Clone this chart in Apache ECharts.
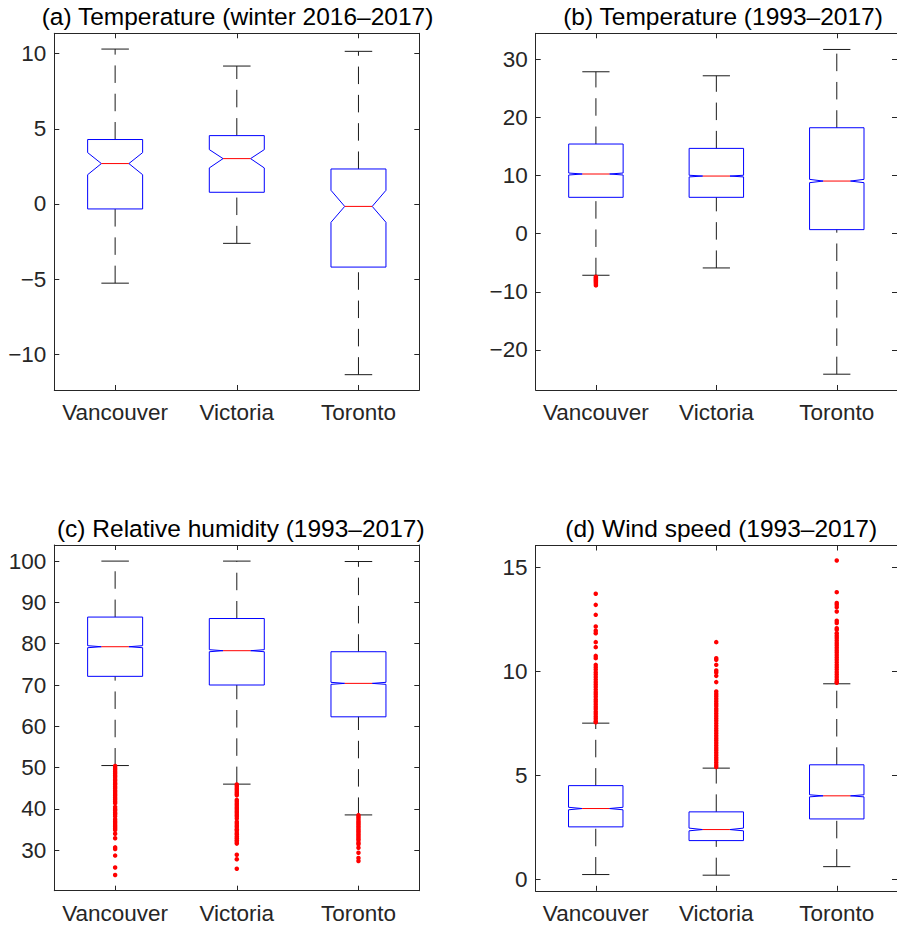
<!DOCTYPE html>
<html>
<head>
<meta charset="utf-8">
<script src="https://cdn.jsdelivr.net/npm/echarts@6/dist/echarts.min.js"></script>
<style>
  html, body { margin: 0; padding: 0; background: #ffffff; }
  #chart { width: 897px; height: 927px; }
</style>
</head>
<body>
<div id="chart"></div>
<script>
// ---------- data ----------
const cities = ['Vancouver', 'Victoria', 'Toronto'];

// Box statistics, ordered as
// [lower whisker, Q1, notch low, median, notch high, Q3, upper whisker]
const winterTempVancouver = [-5.27, -0.33, 1.95, 2.69, 3.42, 4.29, 10.31];
const winterTempVictoria  = [-2.62, 0.78, 2.40, 3.02, 3.62, 4.55, 9.18];
const winterTempToronto   = [-11.36, -4.20, -1.22, -0.16, 0.91, 2.33, 10.16];

const tempVancouver = [-7.16, 6.25, 10.09, 10.26, 10.43, 15.42, 27.85];
const tempVictoria  = [-5.90, 6.25, 9.76, 9.91, 10.05, 14.67, 27.16];
const tempToronto   = [-24.18, 0.69, 8.77, 9.05, 9.34, 18.22, 31.69];

const humidityVancouver = [50.5, 72.1, 79.03, 79.27, 79.52, 86.45, 100];
const humidityVictoria  = [46.0, 70.0, 78.06, 78.31, 78.55, 86.1, 100];
const humidityToronto   = [38.55, 62.3, 70.16, 70.4, 70.65, 78.06, 99.9];

const windVancouver = [0.24, 2.53, 3.35, 3.41, 3.47, 4.51, 7.51];
const windVictoria  = [0.21, 1.87, 2.34, 2.40, 2.47, 3.25, 5.35];
const windToronto   = [0.62, 2.91, 3.97, 4.02, 4.07, 5.51, 9.40];

// Outlying observations
const tempOutVancouver = [-7.4, -7.55, -7.7, -7.85, -8.0, -8.15, -8.3, -8.5, -8.7, -8.9];

const humidityOutVancouver = [50.4, 49.9, 49.5, 49.0, 48.6, 48.1, 47.7, 47.2, 46.8, 46.3,
  45.9, 45.4, 45.0, 44.5, 44.1, 43.6, 43.2, 42.7, 42.3, 41.8, 41.4,
  40.5, 40.0, 39.6, 39.1, 38.7, 38.2, 37.5, 37.0, 36.6, 36.1, 35.7, 35.3, 34.9,
  34.0, 32.9, 30.7, 30.3, 28.7, 25.8, 24.0];
const humidityOutVictoria = [45.9, 45.5, 45.0, 44.6, 44.1, 43.7, 43.3,
  42.2, 41.8, 41.3, 40.9, 40.4, 40.0, 39.5, 39.1, 38.6, 38.2, 37.7,
  36.9, 36.5, 36.0, 35.6, 35.1, 34.7, 34.2, 33.8, 33.3, 32.9, 32.4, 32.0, 31.6,
  28.9, 27.8, 25.5];
const humidityOutToronto = [38.5, 38.1, 37.7, 37.2, 36.8, 36.4, 36.0, 35.6, 35.2, 34.8,
  34.4, 34.0, 33.6, 33.2, 32.8, 32.4, 31.8, 31.45, 30.6, 29.4, 28.1, 27.4];

const windOutVancouver = [13.72, 13.19, 12.71, 12.15, 11.95, 11.83, 11.40, 11.16, 10.74, 10.63,
  10.31, 10.2, 10.08, 9.95, 9.84, 9.72, 9.6, 9.48, 9.37, 9.25, 9.12, 9.0, 8.9, 8.78, 8.65,
  8.54, 8.42, 8.3, 8.19, 8.06, 7.95, 7.83, 7.72, 7.6, 7.55];
const windOutVictoria = [11.40, 10.63, 10.55, 10.31, 10.04, 9.94, 9.78, 9.48,
  9.03, 8.91, 8.8, 8.68, 8.56, 8.44, 8.33, 8.2, 8.09, 7.97, 7.85, 7.73, 7.62, 7.5, 7.38,
  7.26, 7.15, 7.03, 6.91, 6.79, 6.68, 6.56, 6.44, 6.32, 6.21, 6.09, 5.97, 5.85, 5.74,
  5.62, 5.5, 5.4];
const windOutToronto = [15.32, 13.80, 13.28, 13.19, 13.08, 12.87, 12.43, 12.32, 12.07, 11.99,
  11.83, 11.71, 11.6, 11.48, 11.36, 11.25, 11.13, 11.01, 10.9, 10.78, 10.66, 10.55, 10.43,
  10.31, 10.2, 10.08, 9.96, 9.85, 9.73, 9.61, 9.5, 9.45];

// Tick labels
const winterTempTicks = [-10, -5, 0, 5, 10];
const tempTicks = [-20, -10, 0, 10, 20, 30];
const humidityTicks = [30, 40, 50, 60, 70, 80, 90, 100];
const windTicks = [0, 5, 10, 15];

// Panel titles
const titleA = '(a) Temperature (winter 2016\u20132017)';
const titleB = '(b) Temperature (1993\u20132017)';
const titleC = '(c) Relative humidity (1993\u20132017)';
const titleD = '(d) Wind speed (1993\u20132017)';

// ---------- drawing ----------
const FONT = '"Liberation Sans", Arial, Helvetica, sans-serif';
const AXIS = '#262626';

const panels = [
  { title: titleA, titleX: 237.5, titleY: 16,
    grid: { left: 54.3, top: 33.3, width: 365, height: 356.7 },
    range: [-12.38, 11.36], ticks: winterTempTicks,
    boxes: [winterTempVancouver, winterTempVictoria, winterTempToronto],
    outliers: [[], [], []] },
  { title: titleB, titleX: 723, titleY: 16,
    grid: { left: 535.7, top: 33.3, width: 364.3, height: 356.7 },
    range: [-26.9, 34.47], ticks: tempTicks,
    boxes: [tempVancouver, tempVictoria, tempToronto],
    outliers: [tempOutVancouver, [], []] },
  { title: titleC, titleX: 240.8, titleY: 528,
    grid: { left: 54.3, top: 545, width: 365, height: 345.7 },
    range: [20.2, 103.9], ticks: humidityTicks,
    boxes: [humidityVancouver, humidityVictoria, humidityToronto],
    outliers: [humidityOutVancouver, humidityOutVictoria, humidityOutToronto] },
  { title: titleD, titleX: 721.2, titleY: 528,
    grid: { left: 535.5, top: 545.5, width: 364.5, height: 345.3 },
    range: [-0.54, 16.04], ticks: windTicks,
    boxes: [windVancouver, windVictoria, windToronto],
    outliers: [windOutVancouver, windOutVictoria, windOutToronto] }
];

// Notched box with dashed whiskers
function renderBox(params, api) {
  const i = api.value(0);
  const lo = api.value(1), q1 = api.value(2), nLo = api.value(3), med = api.value(4),
        nHi = api.value(5), q3 = api.value(6), hi = api.value(7);
  const cx = api.coord([i, med])[0];
  const band = api.size([1, 0])[0];
  const hw = band * 0.226;   // half box width
  const nw = hw * 0.5;       // half width at the notch waist / whisker cap
  const Y = v => api.coord([i, v])[1];
  const dash = [17.5, 10.8];
  const blk = '#1a1a1a';
  return {
    type: 'group',
    children: [
      { type: 'line', shape: { x1: cx, y1: Y(q3), x2: cx, y2: Y(hi) },
        style: { stroke: blk, lineWidth: 1, lineDash: dash } },
      { type: 'line', shape: { x1: cx, y1: Y(lo), x2: cx, y2: Y(q1) },
        style: { stroke: blk, lineWidth: 1, lineDash: dash } },
      { type: 'line', shape: { x1: cx - nw, y1: Y(hi), x2: cx + nw, y2: Y(hi) },
        style: { stroke: blk, lineWidth: 1 } },
      { type: 'line', shape: { x1: cx - nw, y1: Y(lo), x2: cx + nw, y2: Y(lo) },
        style: { stroke: blk, lineWidth: 1 } },
      { type: 'polygon',
        shape: { points: [
          [cx - hw, Y(q1)], [cx + hw, Y(q1)], [cx + hw, Y(nLo)], [cx + nw, Y(med)],
          [cx + hw, Y(nHi)], [cx + hw, Y(q3)], [cx - hw, Y(q3)], [cx - hw, Y(nHi)],
          [cx - nw, Y(med)], [cx - hw, Y(nLo)]
        ] },
        style: { fill: 'none', stroke: '#0000ff', lineWidth: 1 } },
      { type: 'line', shape: { x1: cx - nw, y1: Y(med), x2: cx + nw, y2: Y(med) },
        style: { stroke: '#ff0000', lineWidth: 1 } }
    ]
  };
}

const grid = [], xAxis = [], yAxis = [], series = [], graphic = [];
const lineStyle = { color: AXIS, width: 1 };

panels.forEach((p, g) => {
  grid.push(Object.assign({ containLabel: false }, p.grid));

  ['bottom', 'top'].forEach(pos => {
    xAxis.push({
      type: 'category', gridIndex: g, data: cities, position: pos,
      axisLine: { show: true, onZero: false, lineStyle },
      axisTick: { show: true, inside: true, alignWithLabel: true, length: 5, lineStyle },
      axisLabel: pos === 'bottom'
        ? { show: true, interval: 0, hideOverlap: false, color: AXIS, fontSize: 22.5,
            fontFamily: FONT, margin: 11 }
        : { show: false },
      splitLine: { show: false }
    });
  });

  ['left', 'right'].forEach(pos => {
    yAxis.push({
      type: 'value', gridIndex: g, position: pos,
      min: p.range[0], max: p.range[1],
      axisLine: { show: true, onZero: false, lineStyle },
      axisTick: { show: true, inside: true, length: 5, customValues: p.ticks, lineStyle },
      axisLabel: pos === 'left'
        ? { show: true, customValues: p.ticks, color: AXIS, fontSize: 22.5, fontFamily: FONT,
            margin: 8, formatter: v => String(v).replace('-', '\u2212') }
        : { show: false },
      splitLine: { show: false }
    });
  });

  series.push({
    type: 'custom', xAxisIndex: 2 * g, yAxisIndex: 2 * g, silent: true,
    renderItem: renderBox,
    data: p.boxes.map((b, i) => [i].concat(b))
  });

  const pts = [];
  p.outliers.forEach((arr, i) => arr.forEach(v => pts.push([i, v])));
  series.push({
    type: 'scatter', xAxisIndex: 2 * g, yAxisIndex: 2 * g, silent: true,
    symbol: 'circle', symbolSize: 4.5, itemStyle: { color: '#ff0000', opacity: 1 },
    data: pts
  });

  graphic.push({
    type: 'text', x: p.titleX, y: p.titleY, silent: true,
    style: { text: p.title, fill: '#000000', fontSize: 24.5, fontFamily: FONT,
             align: 'center', verticalAlign: 'middle' }
  });
});

const chart = echarts.init(document.getElementById('chart'), null, { renderer: 'svg' });
chart.setOption({
  animation: false,
  backgroundColor: '#ffffff',
  grid, xAxis, yAxis, series, graphic
});
</script>
</body>
</html>
